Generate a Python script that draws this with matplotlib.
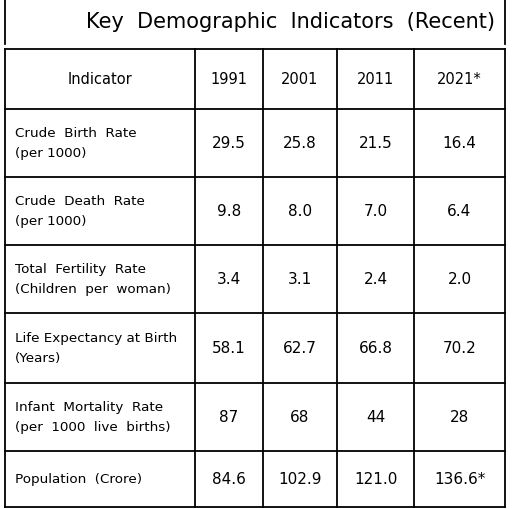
import matplotlib
matplotlib.use("Agg")
import matplotlib.pyplot as plt

title = "Key  Demographic  Indicators  (Recent)"
years = ["1991", "2001", "2011", "2021*"]
indicators = ["Crude  Birth  Rate\n(per 1000)", "Crude  Death  Rate\n(per 1000)",
              "Total  Fertility  Rate\n(Children  per  woman)", "Life Expectancy at Birth\n(Years)",
              "Infant  Mortality  Rate\n(per  1000  live  births)", "Population  (Crore)"]
values = [["29.5", "25.8", "21.5", "16.4"],
          ["9.8", "8.0", "7.0", "6.4"],
          ["3.4", "3.1", "2.4", "2.0"],
          ["58.1", "62.7", "66.8", "70.2"],
          ["87", "68", "44", "28"],
          ["84.6", "102.9", "121.0", "136.6*"]]

fig = plt.figure(figsize=(5.12, 5.10), dpi=100)
ax = fig.add_axes([0, 0, 1, 1])
ax.set_xlim(0, 512); ax.set_ylim(510, 0); ax.axis("off")
lw = 1.3
ax.plot([5, 5, 505, 505], [45, 0, 0, 45], color="black", lw=lw)
ax.text(290, 22, title, ha="center", va="center", fontsize=15)
xs = [5, 195, 263, 337, 414, 505]
ys = [50, 110, 178, 246, 314, 384, 452, 508]
for x in xs:
    ax.plot([x, x], [ys[0], ys[-1]], color="black", lw=lw)
for y in ys:
    ax.plot([xs[0], xs[-1]], [y, y], color="black", lw=lw)
fs = 10.5
ax.text((xs[0] + xs[1]) / 2, (ys[0] + ys[1]) / 2, "Indicator", ha="center", va="center", fontsize=fs)
for j, yr in enumerate(years):
    ax.text((xs[j+1] + xs[j+2]) / 2, (ys[0] + ys[1]) / 2, yr, ha="center", va="center", fontsize=fs)
for i, ind in enumerate(indicators):
    yc = (ys[i+1] + ys[i+2]) / 2
    ax.text(15, yc, ind, ha="left", va="center", fontsize=9.7, linespacing=1.7)
    for j, v in enumerate(values[i]):
        ax.text((xs[j+1] + xs[j+2]) / 2, yc, v, ha="center", va="center", fontsize=fs + 0.5)
fig.savefig("out.png", dpi=100, facecolor="white")
